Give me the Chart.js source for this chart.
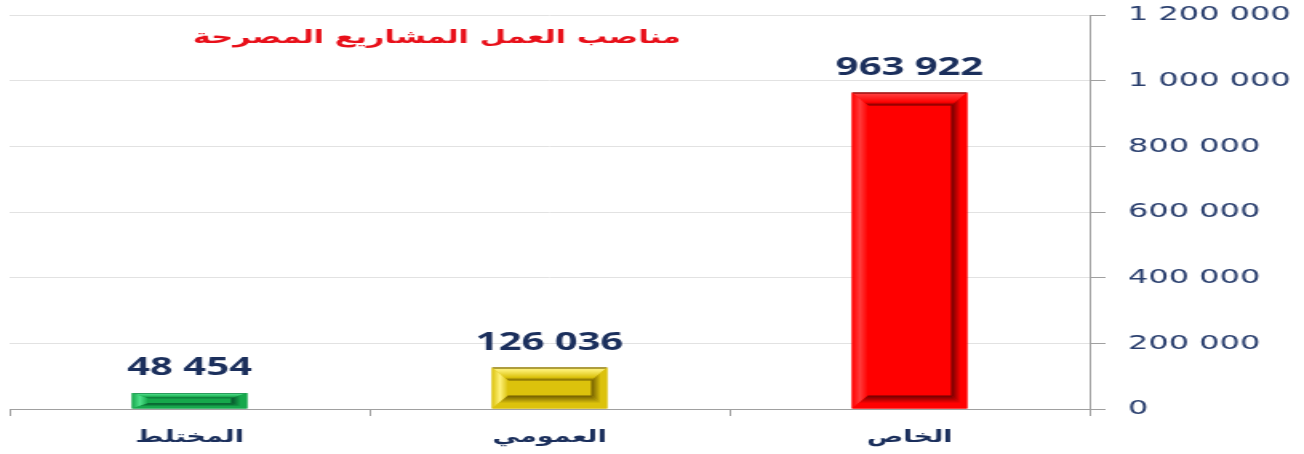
<!DOCTYPE html>
<html>
<head>
<meta charset="utf-8">
<script src="https://cdn.jsdelivr.net/npm/chart.js@4/dist/chart.umd.min.js"></script>
<style>
  html, body { margin: 0; padding: 0; background: #fff; overflow: hidden; }
  /* the reference is stretched sideways, so draw narrow and stretch the box */
  #wrap { width: 815px; height: 454px; transform: scaleX(1.6); transform-origin: 0 0; }
</style>
</head>
<body>
<div id="wrap"><canvas id="jobsChart" width="815" height="454"></canvas></div>
<script>
// data
const categories = ['المختلط', 'العمومي', 'الخاص'];
const jobs = [48454, 126036, 963922];
const chartTitle = 'مناصب العمل المشاريع المصرحة';
const yMax = 1200000;
const yStep = 200000;

// colours per bar: face, light edge, dark edge
const faceColors = ['#16a84c', '#dcc20c', '#ff0000'];
const lightColors = ['#4fe08a', '#fff27a', '#ff3a3a'];
const darkColors = ['#05502a', '#6e5a00', '#6a0000'];

const navy = '#1b2f5c';

function spaced(v) {
  return String(v).replace(/\B(?=(\d{3})+(?!\d))/g, ' ');
}

// bevel look + value labels on top of each bar
const bevelPlugin = {
  id: 'bevel',
  afterDatasetsDraw(chart) {
    const ctx = chart.ctx;
    const meta = chart.getDatasetMeta(0);
    meta.data.forEach((bar, i) => {
      const { x, y, base, width } = bar.getProps(['x', 'y', 'base', 'width'], true);
      const L = x - width / 2, R = x + width / 2, T = y, B = base;
      const h = B - T;
      const bx = Math.min(10, width / 4);
      const by = Math.min(13, h / 3);
      const face = faceColors[i], light = lightColors[i], dark = darkColors[i];

      ctx.save();
      // top band
      let g = ctx.createLinearGradient(0, T, 0, T + by);
      g.addColorStop(0, dark); g.addColorStop(0.15, light); g.addColorStop(0.75, face); g.addColorStop(1, dark);
      ctx.fillStyle = g;
      ctx.beginPath(); ctx.moveTo(L, T); ctx.lineTo(R, T); ctx.lineTo(R - bx, T + by); ctx.lineTo(L + bx, T + by); ctx.closePath(); ctx.fill();
      // left band
      g = ctx.createLinearGradient(L, 0, L + bx, 0);
      g.addColorStop(0, face); g.addColorStop(0.5, light); g.addColorStop(1, face);
      ctx.fillStyle = g;
      ctx.beginPath(); ctx.moveTo(L, T); ctx.lineTo(L + bx, T + by); ctx.lineTo(L + bx, B - by); ctx.lineTo(L, B); ctx.closePath(); ctx.fill();
      // right band
      g = ctx.createLinearGradient(R, 0, R - bx, 0);
      g.addColorStop(0, face); g.addColorStop(0.4, face); g.addColorStop(1, dark);
      ctx.fillStyle = g;
      ctx.beginPath(); ctx.moveTo(R, T); ctx.lineTo(R, B); ctx.lineTo(R - bx, B - by); ctx.lineTo(R - bx, T + by); ctx.closePath(); ctx.fill();
      // bottom band
      g = ctx.createLinearGradient(0, B, 0, B - by);
      g.addColorStop(0, face); g.addColorStop(0.4, face); g.addColorStop(1, dark);
      ctx.fillStyle = g;
      ctx.beginPath(); ctx.moveTo(L, B); ctx.lineTo(R, B); ctx.lineTo(R - bx, B - by); ctx.lineTo(L + bx, B - by); ctx.closePath(); ctx.fill();

      // value label
      ctx.fillStyle = navy;
      ctx.font = 'bold 25px "Open Sans"';
      ctx.textAlign = 'center';
      ctx.textBaseline = 'alphabetic';
      ctx.fillText(spaced(jobs[i]), x, T - 18);
      ctx.restore();
    });

    // title inside the plot
    ctx.save();
    ctx.fillStyle = '#e8101a';
    ctx.font = 'bold 19px "DejaVu Sans"';
    ctx.textAlign = 'center';
    ctx.textBaseline = 'middle';
    ctx.fillText(chartTitle, 273, 38);
    ctx.restore();
  }
};

new Chart(document.getElementById('jobsChart'), {
  type: 'bar',
  data: {
    labels: categories,
    datasets: [{
      data: jobs,
      backgroundColor: faceColors,
      borderWidth: 0,
      barPercentage: 0.32,
      categoryPercentage: 1
    }]
  },
  options: {
    responsive: false,
    animation: false,
    layout: { padding: { top: 0, left: 6, right: 0, bottom: 0 } },
    plugins: { legend: { display: false }, tooltip: { enabled: false }, title: { display: false } },
    scales: {
      x: {
        grid: { drawOnChartArea: false, drawTicks: true, tickLength: 7, color: '#a0a0a0' },
        border: { color: '#a0a0a0' },
        ticks: { color: navy, padding: 11, font: { family: 'DejaVu Sans', size: 17, weight: 'bold' } },
        afterFit(scale) { scale.height = 45; }
      },
      y: {
        position: 'right',
        min: 0,
        max: yMax,
        // long tick with a dash so only the first 9px show, leaving a gap before the label
        grid: { color: '#e2e2e2', tickLength: 21, tickColor: '#a0a0a0', tickBorderDash: [9, 40] },
        border: { color: '#a0a0a0' },
        ticks: {
          stepSize: yStep,
          padding: 3,
          color: '#2a3f6e',
          font: { family: 'DejaVu Sans', size: 20 },
          callback: v => spaced(v)
        },
        afterFit(scale) { scale.width = 134; }
      }
    }
  },
  plugins: [bevelPlugin]
});
</script>
</body>
</html>
